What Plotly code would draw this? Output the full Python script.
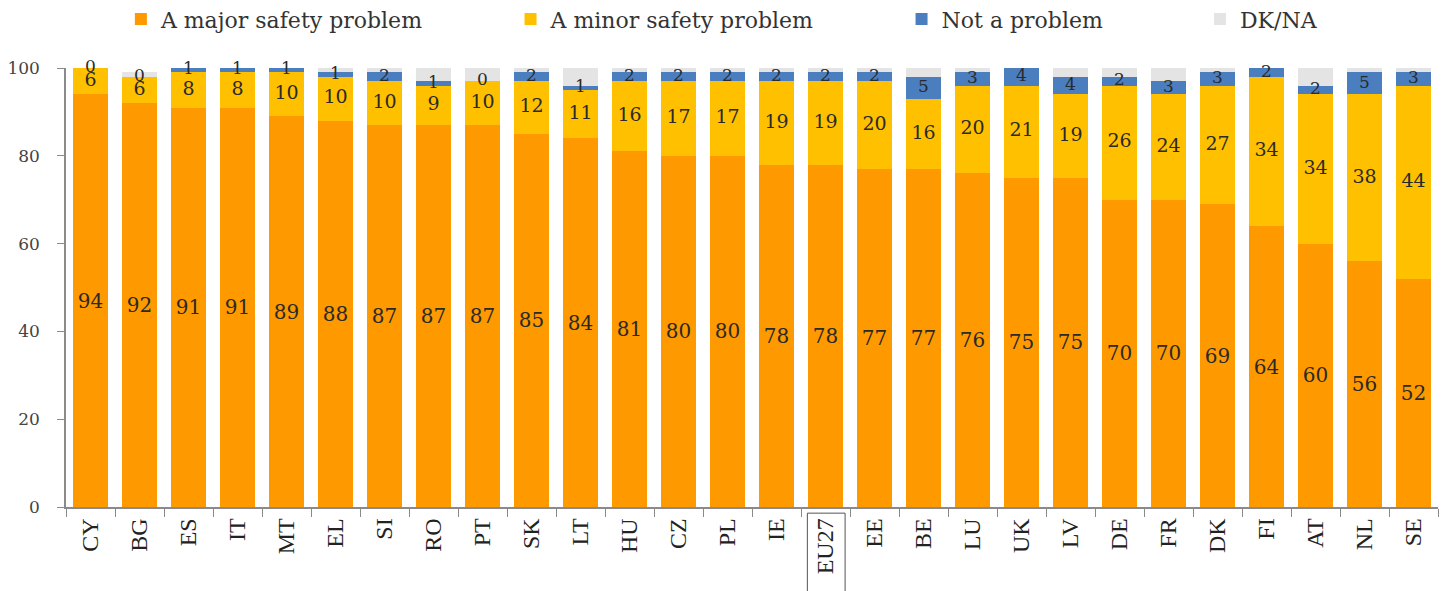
import plotly.graph_objects as go

countries = ["CY", "BG", "ES", "IT", "MT", "EL", "SI", "RO", "PT", "SK", "LT", "HU", "CZ", "PL",
             "IE", "EU27", "EE", "BE", "LU", "UK", "LV", "DE", "FR", "DK", "FI", "AT", "NL", "SE"]
major = [94, 92, 91, 91, 89, 88, 87, 87, 87, 85, 84, 81, 80, 80, 78, 78, 77, 77, 76, 75, 75, 70, 70, 69, 64, 60, 56, 52]
minor = [6, 6, 8, 8, 10, 10, 10, 9, 10, 12, 11, 16, 17, 17, 19, 19, 20, 16, 20, 21, 19, 26, 24, 27, 34, 34, 38, 44]
not_problem = [0, 0, 1, 1, 1, 1, 2, 1, 0, 2, 1, 2, 2, 2, 2, 2, 2, 5, 3, 4, 4, 2, 3, 3, 2, 2, 5, 3]
dk_na = [0, 1, 0, 0, 0, 1, 1, 3, 3, 1, 4, 1, 1, 1, 1, 1, 1, 2, 1, 0, 2, 2, 3, 1, 0, 4, 1, 1]

series_names = ["A major safety problem", "A minor safety problem", "Not a problem", "DK/NA"]
colors = ["#FF9900", "#FFC000", "#4A7EBF", "#E4E4E4"]

SERIF = "DejaVu Serif"
LABEL_COLOR = "#2a2a2a"

fig = go.Figure()

fig.add_trace(go.Bar(
    x=countries, y=major, name=series_names[0], marker=dict(color=colors[0], line=dict(width=0)),
    text=[str(v) for v in major], textposition="inside", insidetextanchor="middle",
    textangle=0, constraintext="none",
    textfont=dict(family=SERIF, size=20, color=LABEL_COLOR), legend="legend",
))
fig.add_trace(go.Bar(
    x=countries, y=minor, name=series_names[1], marker=dict(color=colors[1], line=dict(width=0)),
    legend="legend2",
))
fig.add_trace(go.Bar(
    x=countries, y=not_problem, name=series_names[2], marker=dict(color=colors[2], line=dict(width=0)),
    legend="legend3",
))
fig.add_trace(go.Bar(
    x=countries, y=dk_na, name=series_names[3], marker=dict(color=colors[3], line=dict(width=0)),
    legend="legend4",
))

# labels for the minor and "not a problem" segments, centred in each segment
minor_mid = [m + n / 2 for m, n in zip(major, minor)]
not_mid = [m + n + p / 2 for m, n, p in zip(major, minor, not_problem)]
fig.add_trace(go.Scatter(
    x=countries, y=minor_mid, mode="text", text=[str(v) for v in minor],
    textfont=dict(family=SERIF, size=19, color=LABEL_COLOR), showlegend=False,
    hoverinfo="skip", cliponaxis=False,
))
fig.add_trace(go.Scatter(
    x=countries, y=not_mid, mode="text", text=[str(v) for v in not_problem],
    textfont=dict(family=SERIF, size=17, color=LABEL_COLOR), showlegend=False,
    hoverinfo="skip", cliponaxis=False,
))

leg_common = dict(orientation="h", yanchor="middle", y=1.111, xanchor="left",
                  font=dict(family=SERIF, size=22, color="#333333"),
                  bgcolor="rgba(0,0,0,0)", itemclick=False, itemdoubleclick=False)

fig.update_layout(
    width=1441, height=583,
    margin=dict(l=58, r=11, t=60, b=84, autoexpand=False),
    paper_bgcolor="white", plot_bgcolor="white",
    barmode="stack", bargap=0.3,
    showlegend=True,
    legend=dict(x=0.040, **leg_common),
    legend2=dict(x=0.324, **leg_common),
    legend3=dict(x=0.609, **leg_common),
    legend4=dict(x=0.8265, **leg_common),
    xaxis=dict(
        type="category", range=[-0.5, len(countries) - 0.5],
        tickangle=-90, tickson="boundaries", ticks="outside", ticklen=8,
        tickcolor="#8a8a8a", showline=True, linecolor="#8a8a8a", linewidth=1.5,
        tickfont=dict(family="Liberation Serif", size=24, color="#222222"),
        showgrid=False, zeroline=False, automargin=False,
    ),
    yaxis=dict(
        range=[0, 100], tickvals=[0, 20, 40, 60, 80, 100], ticks="outside", ticklen=7,
        tickcolor="#8a8a8a", showline=True, linecolor="#8a8a8a", linewidth=1.5,
        tickfont=dict(family=SERIF, size=17, color="#444444"), ticklabelstandoff=14,
        showgrid=False, zeroline=False, automargin=False,
    ),
    shapes=[dict(
        type="rect", xref="x", yref="paper", x0=14.63, x1=15.4, y0=-0.014, y1=-0.2,
        line=dict(color="#555555", width=1), fillcolor="rgba(0,0,0,0)", layer="above",
    )],
)

fig.write_html("out.html")
